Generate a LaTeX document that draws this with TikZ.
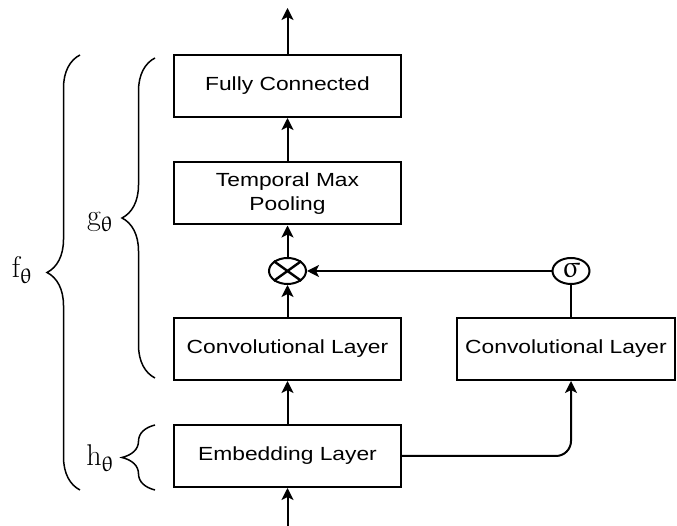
\documentclass[tikz,border=0pt]{standalone}
\usepackage{fontspec}
\usepackage{upgreek}
\usepackage{tikz}
\usetikzlibrary{arrows.meta,shapes.geometric,decorations.pathreplacing}
\newfontfamily\boxfont[FakeStretch=1.2]{Liberation Sans}

\begin{document}
\begin{tikzpicture}[x=1pt,y=1pt,line width=2pt,
  layer/.style={draw,minimum width=227pt,minimum height=62pt,align=center,font=\boxfont\fontsize{19}{24}\selectfont},
  op/.style={draw,ellipse,minimum width=37pt,minimum height=26pt,inner sep=0pt},
  flow/.style={-{Stealth[length=12pt,width=12pt,inset=3pt]}},
  brc/.style={decorate,decoration={brace,amplitude=33pt},line width=1.5pt},
  lab/.style={font=\fontsize{30}{34}\selectfont}]
\useasboundingbox (0,0) rectangle (677,526);
% the layers, bottom to top
\node[layer] (emb) at (287.5,70) {Embedding Layer};
\node[layer] (conv) at (287.5,177) {Convolutional Layer};
\node[layer,minimum width=218pt] (gate) at (566,177) {Convolutional Layer};
\node[op] (mul) at (287.5,255) {};
\draw[line width=2.4pt] (mul.north west)--(mul.south east);\draw[line width=2.4pt] (mul.north east)--(mul.south west);
\node[op,font=\fontsize{30}{34}\selectfont] (sig) at (571,255) {$\upsigma$};
\node[layer] (pool) at (287.5,332.5) {Temporal Max\\Pooling};
\node[layer] (fc) at (287.5,440) {Fully Connected};
\coordinate (in) at (287.5,0);\coordinate (out) at (287.5,518);
% connections
\draw[flow] (in)--(emb);\draw[flow] (emb)--(conv);\draw[flow] (conv)--(mul);
\draw[flow] (mul)--(pool);\draw[flow] (pool)--(fc);\draw[flow] (fc)--(out);
\draw[flow,rounded corners=15pt] (emb.east) -| (sig|-gate.south);
\draw (gate.north-|sig)--(sig);\draw[flow] (sig)--(mul);
% braces
\draw[brc] (80,36)--(80,471);\draw[brc] (155,148)--(155,468);\draw[brc] (155,36)--(155,101);
\node[lab] (f) at (22,256) {$\mathrm{f}_\uptheta$};
\node[lab] (g) at (100,304) {$\mathrm{g}_\uptheta$};
\node[lab] (h) at (100,68) {$\mathrm{h}_\uptheta$};
\end{tikzpicture}
\end{document}
